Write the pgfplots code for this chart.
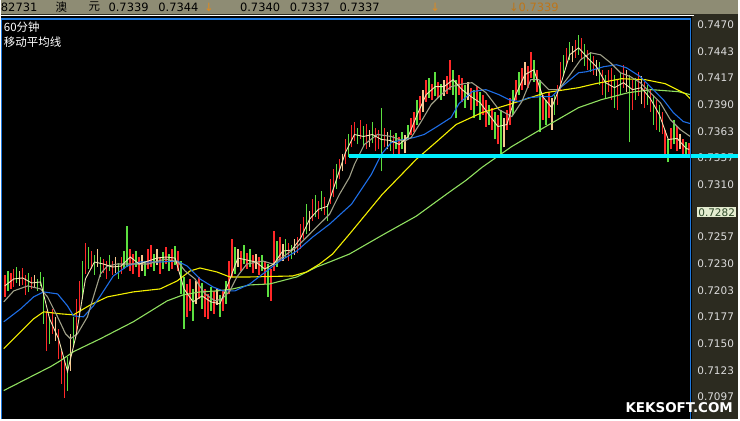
\documentclass[border=0pt]{standalone}
\usepackage{fontspec}
\setmainfont{DejaVu Sans}
\newfontfamily\cjk{Noto Sans CJK SC}
\usepackage{pgfplots}
\usepackage{pgfplotstable}
\pgfplotsset{compat=1.18}

\definecolor{hdr}{HTML}{8E8C74}
\definecolor{panel}{HTML}{2C2B20}
\definecolor{frameblue}{HTML}{1E78DC}
\definecolor{barred}{HTML}{FF2828}
\definecolor{bargreen}{HTML}{5CE040}
\definecolor{barpeach}{HTML}{F6C890}
\definecolor{macream}{HTML}{F0E6B4}
\definecolor{magrey}{HTML}{A0A088}
\definecolor{mablue}{HTML}{1E6EE6}
\definecolor{mayellow}{HTML}{F4F000}
\definecolor{magreen}{HTML}{90E060}
\definecolor{lblgrey}{HTML}{DCDCDC}
\definecolor{tagbg}{HTML}{E4ECD0}
\definecolor{tagtext}{HTML}{2E4A2A}
\definecolor{arrowc}{HTML}{E08A1E}
\definecolor{support}{HTML}{00F0FF}

\newcommand{\pricetag}[1]{{\setlength{\fboxsep}{1pt}\colorbox{tagbg}{\color{tagtext}#1}}}

% one high-low bar per row: a vertical stroke from the low to the high
\pgfplotsset{
  hlbar/.style 2 args={draw=#1, line width=1.6pt, mark=none, forget plot,
    quiver={u=0, v=\thisrow{hi}-\thisrow{lo}},
    restrict expr to domain={\thisrow{c}}{#2:#2}},
}

% 60-minute bars: index, high, low, colour class (0 red, 1 green, 2 peach)
\pgfplotstableread{
i hi lo c
1 0.7219 0.7197 0
2 0.7223 0.7203 1
3 0.7221 0.7205 0
4 0.7225 0.7207 0
5 0.7227 0.7211 1
6 0.7223 0.7208 2
7 0.7226 0.7209 0
8 0.7219 0.7199 0
9 0.7221 0.7202 1
10 0.7217 0.7205 0
11 0.7219 0.7206 2
12 0.7215 0.7203 1
13 0.7222 0.7208 1
14 0.7217 0.7170 1
15 0.7183 0.7143 0
16 0.7177 0.7150 1
17 0.7185 0.7160 0
18 0.7177 0.7153 2
19 0.7165 0.7135 0
20 0.7143 0.7110 0
21 0.7133 0.7096 0
22 0.7137 0.7103 1
23 0.7160 0.7123 2
24 0.7177 0.7147 1
25 0.7195 0.7160 0
26 0.7213 0.7177 0
27 0.7233 0.7195 1
28 0.7251 0.7220 0
29 0.7247 0.7225 1
30 0.7243 0.7225 0
31 0.7239 0.7219 1
32 0.7245 0.7227 2
33 0.7237 0.7217 1
34 0.7235 0.7221 0
35 0.7233 0.7215 0
36 0.7239 0.7223 1
37 0.7233 0.7219 0
38 0.7237 0.7221 2
39 0.7231 0.7215 1
40 0.7237 0.7220 0
41 0.7243 0.7225 1
42 0.7268 0.7227 1
43 0.7245 0.7223 0
44 0.7240 0.7220 0
45 0.7243 0.7227 1
46 0.7237 0.7217 0
47 0.7239 0.7223 2
48 0.7233 0.7218 1
49 0.7245 0.7225 0
50 0.7249 0.7227 0
51 0.7240 0.7223 1
52 0.7245 0.7229 2
53 0.7237 0.7220 0
54 0.7242 0.7225 1
55 0.7247 0.7230 0
56 0.7240 0.7223 1
57 0.7245 0.7225 0
58 0.7248 0.7229 1
59 0.7243 0.7223 0
60 0.7233 0.7200 1
61 0.7217 0.7165 1
62 0.7210 0.7177 0
63 0.7215 0.7183 0
64 0.7205 0.7173 1
65 0.7213 0.7190 2
66 0.7217 0.7195 0
67 0.7211 0.7185 1
68 0.7205 0.7177 0
69 0.7200 0.7175 0
70 0.7207 0.7183 1
71 0.7203 0.7180 0
72 0.7205 0.7189 2
73 0.7199 0.7177 1
74 0.7203 0.7183 0
75 0.7213 0.7190 1
76 0.7233 0.7200 0
77 0.7255 0.7217 0
78 0.7247 0.7220 1
79 0.7245 0.7227 2
80 0.7243 0.7223 0
81 0.7249 0.7230 1
82 0.7241 0.7225 0
83 0.7245 0.7227 1
84 0.7239 0.7221 0
85 0.7240 0.7225 2
86 0.7237 0.7219 0
87 0.7239 0.7223 1
88 0.7233 0.7210 0
89 0.7230 0.7197 1
90 0.7225 0.7193 0
91 0.7263 0.7223 0
92 0.7253 0.7227 1
93 0.7257 0.7233 0
94 0.7250 0.7233 2
95 0.7255 0.7237 1
96 0.7251 0.7233 0
97 0.7249 0.7235 1
98 0.7255 0.7239 2
99 0.7257 0.7241 0
100 0.7270 0.7245 0
101 0.7277 0.7255 0
102 0.7290 0.7260 1
103 0.7283 0.7263 2
104 0.7295 0.7273 0
105 0.7299 0.7277 1
106 0.7293 0.7275 0
107 0.7303 0.7283 1
108 0.7297 0.7279 0
109 0.7290 0.7273 1
110 0.7315 0.7290 0
111 0.7325 0.7297 0
112 0.7330 0.7305 1
113 0.7335 0.7315 0
114 0.7340 0.7323 2
115 0.7355 0.7330 0
116 0.7360 0.7337 1
117 0.7370 0.7347 0
118 0.7373 0.7353 0
119 0.7367 0.7350 1
120 0.7375 0.7355 0
121 0.7369 0.7347 1
122 0.7371 0.7345 0
123 0.7365 0.7347 2
124 0.7373 0.7351 1
125 0.7367 0.7343 0
126 0.7365 0.7345 0
127 0.7387 0.7323 1
128 0.7367 0.7347 0
129 0.7363 0.7345 2
130 0.7365 0.7343 1
131 0.7359 0.7340 0
132 0.7361 0.7345 1
133 0.7357 0.7339 0
134 0.7363 0.7345 1
135 0.7359 0.7341 2
136 0.7370 0.7355 1
137 0.7377 0.7359 0
138 0.7383 0.7363 0
139 0.7395 0.7370 1
140 0.7399 0.7375 0
141 0.7405 0.7383 2
142 0.7415 0.7393 0
143 0.7417 0.7397 1
144 0.7411 0.7395 0
145 0.7423 0.7399 1
146 0.7413 0.7397 0
147 0.7411 0.7395 1
148 0.7415 0.7399 2
149 0.7419 0.7401 0
150 0.7435 0.7405 0
151 0.7425 0.7400 1
152 0.7415 0.7377 1
153 0.7420 0.7400 0
154 0.7417 0.7393 0
155 0.7410 0.7387 1
156 0.7413 0.7395 2
157 0.7407 0.7385 0
158 0.7405 0.7377 1
159 0.7409 0.7389 0
160 0.7403 0.7375 1
161 0.7400 0.7380 0
162 0.7395 0.7368 0
163 0.7390 0.7370 1
164 0.7387 0.7365 0
165 0.7383 0.7355 1
166 0.7380 0.7350 0
167 0.7385 0.7338 1
168 0.7377 0.7347 2
169 0.7385 0.7365 0
170 0.7397 0.7370 0
171 0.7405 0.7380 1
172 0.7415 0.7395 0
173 0.7423 0.7400 1
174 0.7427 0.7405 0
175 0.7433 0.7410 2
176 0.7429 0.7407 0
177 0.7443 0.7417 0
178 0.7435 0.7413 1
179 0.7425 0.7403 0
180 0.7415 0.7362 1
181 0.7400 0.7375 0
182 0.7395 0.7370 1
183 0.7403 0.7377 0
184 0.7397 0.7365 2
185 0.7400 0.7380 1
186 0.7410 0.7390 0
187 0.7433 0.7405 0
188 0.7440 0.7420 1
189 0.7447 0.7430 0
190 0.7453 0.7435 1
191 0.7449 0.7433 2
192 0.7455 0.7437 0
193 0.7460 0.7440 1
194 0.7457 0.7435 0
195 0.7451 0.7429 1
196 0.7445 0.7425 0
197 0.7443 0.7423 1
198 0.7439 0.7420 0
199 0.7435 0.7419 2
200 0.7433 0.7410 1
201 0.7425 0.7400 0
202 0.7420 0.7397 1
203 0.7425 0.7403 0
204 0.7427 0.7395 0
205 0.7420 0.7387 1
206 0.7415 0.7385 0
207 0.7423 0.7400 1
208 0.7430 0.7407 0
209 0.7425 0.7403 2
210 0.7420 0.7352 1
211 0.7415 0.7385 0
212 0.7417 0.7395 1
213 0.7423 0.7399 0
214 0.7419 0.7391 2
215 0.7413 0.7387 0
216 0.7410 0.7390 1
217 0.7405 0.7383 0
218 0.7400 0.7370 1
219 0.7395 0.7365 0
220 0.7390 0.7363 1
221 0.7383 0.7360 0
222 0.7365 0.7337 0
223 0.7355 0.7332 1
224 0.7367 0.7345 0
225 0.7375 0.7350 1
226 0.7369 0.7343 0
227 0.7360 0.7345 2
228 0.7355 0.7340 0
229 0.7352 0.7338 1
230 0.7351 0.7339 0
}\bars

% moving averages, fastest first
\pgfplotstableread{
i v
1 0.7208
4 0.7215
7 0.7216
10 0.7211
13 0.7212
16 0.7175
19 0.7155
22 0.7122
25 0.7160
28 0.7215
31 0.7232
34 0.7230
37 0.7227
40 0.7228
43 0.7237
46 0.7230
49 0.7233
52 0.7236
55 0.7237
58 0.7236
61 0.7205
64 0.7192
67 0.7198
70 0.7192
73 0.7190
76 0.7212
79 0.7236
82 0.7234
85 0.7232
88 0.7225
91 0.7230
94 0.7243
97 0.7244
100 0.7256
103 0.7275
106 0.7285
109 0.7288
112 0.7315
115 0.7342
118 0.7360
121 0.7358
124 0.7360
127 0.7355
130 0.7354
133 0.7350
136 0.7358
139 0.7380
142 0.7400
145 0.7408
148 0.7408
151 0.7415
154 0.7405
157 0.7398
160 0.7392
163 0.7380
166 0.7368
169 0.7370
172 0.7400
175 0.7420
178 0.7425
181 0.7398
184 0.7387
187 0.7410
190 0.7440
193 0.7447
196 0.7437
199 0.7428
202 0.7412
205 0.7407
208 0.7412
211 0.7405
214 0.7407
217 0.7396
220 0.7380
223 0.7355
226 0.7356
229 0.7346
230 0.7345
}\maF

\pgfplotstableread{
i v
0.67 0.7192
4 0.7203
8.67 0.7208
13 0.7205
15.33 0.7197
18.67 0.7177
21.33 0.7160
23 0.7155
25.33 0.7160
28.67 0.7177
30.67 0.7197
33 0.7220
35.33 0.7228
38.67 0.7230
43.67 0.7230
49 0.7230
54.67 0.7235
59 0.7232
61.33 0.7223
64.67 0.7215
68 0.7200
71.33 0.7193
73.67 0.7195
76.33 0.7203
78.67 0.7217
82 0.7230
87.33 0.7233
90.67 0.7230
94 0.7237
98.67 0.7247
102 0.7257
106.33 0.7270
109.67 0.7280
113 0.7300
116.33 0.7317
118 0.7330
121.33 0.7350
125.67 0.7360
130.33 0.7358
134.67 0.7353
137 0.7357
140.33 0.7373
143.67 0.7390
147 0.7400
150.33 0.7408
154.67 0.7411
157.33 0.7412
162 0.7402
166.33 0.7385
170.67 0.7378
174 0.7393
177 0.7415
179.67 0.7415
183 0.7405
186.33 0.7405
189.67 0.7418
193.67 0.7435
197 0.7442
200.33 0.7440
203.67 0.7432
207 0.7422
210.33 0.7418
213.67 0.7412
217 0.7402
220.33 0.7392
223.67 0.7375
227 0.7365
230.33 0.7358
}\maA

\pgfplotstableread{
i v
0.67 0.7172
6.33 0.7185
10.67 0.7197
14 0.7202
18.67 0.7200
22 0.7188
24 0.7178
27.33 0.7177
30.67 0.7188
33 0.7198
37.33 0.7218
42 0.7228
46.33 0.7232
53 0.7232
58.67 0.7233
62 0.7228
66.33 0.7215
70.67 0.7207
74 0.7203
78 0.7203
83 0.7210
93 0.7233
98.67 0.7243
104 0.7257
109.67 0.7270
117 0.7290
123.67 0.7320
127 0.7340
130.33 0.7352
134.67 0.7355
138 0.7357
141.33 0.7360
145.67 0.7368
150.33 0.7377
153 0.7391
157.33 0.7403
162 0.7405
166.33 0.7400
169.67 0.7395
173 0.7393
176.33 0.7397
180.67 0.7398
184 0.7398
187.33 0.7408
193 0.7422
195.67 0.7423
201.33 0.7428
205.67 0.7430
209 0.7427
213.67 0.7418
218 0.7405
221.33 0.7395
224.67 0.7382
228 0.7373
230.33 0.7371
}\maB

\pgfplotstableread{
i v
0.67 0.7145
6.33 0.7162
10.67 0.7175
14 0.7182
19.67 0.7180
24 0.7179
29.67 0.7189
35.33 0.7197
44 0.7202
53 0.7205
58.67 0.7213
63 0.7223
66.33 0.7226
72 0.7222
76.33 0.7217
83 0.7217
97.33 0.7218
102 0.7222
106.33 0.7230
110.67 0.7240
116.33 0.7260
127.33 0.7300
138.67 0.7335
146.33 0.7355
152 0.7370
160.67 0.7382
170.67 0.7391
182 0.7402
193 0.7407
198.67 0.7411
207.33 0.7416
215.33 0.7415
222 0.7411
228.67 0.7401
230.33 0.7396
}\maC

\pgfplotstableread{
i v
0.67 0.7103
16.33 0.7127
19.67 0.7133
24 0.7142
33 0.7155
44 0.7172
55.33 0.7193
60.67 0.7199
66.33 0.7202
72 0.7203
77.33 0.7205
83 0.7209
89.67 0.7210
98.67 0.7217
105.33 0.7227
109.67 0.7232
116.33 0.7240
127.33 0.7259
138.67 0.7278
149.67 0.7302
155.33 0.7314
160.67 0.7327
170.67 0.7348
182 0.7368
193 0.7387
200.67 0.7395
209.67 0.7402
217.33 0.7405
226.33 0.7403
230.33 0.7400
}\maD

\begin{document}
\begin{tikzpicture}[x=1pt, y=1pt]
% panels
\fill[panel] (0,0) rectangle (740,421);
\fill[hdr] (0,407) rectangle (740,421);
\fill[black] (0,0) rectangle (693.5,405);
\draw[white, line width=1.5pt] (0,405.5) -- (696,405.5);

% quote strip
\begin{scope}[every node/.style={anchor=west, inner sep=0pt, font=\fontsize{11.5}{13}\selectfont, text=black}]
\node at (0,414) {82731};
\node at (55,414) {\cjk 澳};
\node at (88,414) {\cjk 元};
\node at (108,414) {0.7339};
\node at (158,414) {0.7344};
\node[text=arrowc] at (204,414) {↓};
\node at (240,414) {0.7340};
\node at (290,414) {0.7337};
\node at (340,414) {0.7337};
\node[text=arrowc] at (431,414) {↓};
\node[text=arrowc!85!black] at (510,414) {↓0.7339};
\end{scope}

\begin{axis}[
  at={(1pt,0pt)}, anchor=south west,
  scale only axis, width=691pt, height=402pt,
  xmin=0, xmax=230.33, ymin=0.7074, ymax=0.7476,
  clip=false,
  axis line style={draw=none},
  xtick=\empty,
  major tick length=0pt,
  yticklabel pos=right,
  ytick={0.7097,0.7123,0.7150,0.7177,0.7203,0.7230,0.7257,0.7282,0.7310,0.7337,0.7363,0.7390,0.7417,0.7443,0.7470},
  yticklabels={0.7097,0.7123,0.7150,0.7177,0.7203,0.7230,0.7257,\pricetag{0.7282},0.7310,0.7337,0.7363,0.7390,0.7417,0.7443,0.7470},
  yticklabel style={anchor=west, inner sep=0pt, xshift=7pt, text=lblgrey, font=\fontsize{10.5}{12}\selectfont},
]
\addplot[hlbar={barred}{0}] table[x=i, y=lo] {\bars};
\addplot[hlbar={bargreen}{1}] table[x=i, y=lo] {\bars};
\addplot[hlbar={barpeach}{2}] table[x=i, y=lo] {\bars};

\addplot[magreen, line width=1.1pt, mark=none] table[x=i, y=v] {\maD};
\addplot[mayellow, line width=1.1pt, mark=none] table[x=i, y=v] {\maC};
\addplot[mablue, line width=1.1pt, mark=none] table[x=i, y=v] {\maB};
\addplot[magrey, line width=1.1pt, mark=none] table[x=i, y=v] {\maA};
\addplot[macream, line width=0.9pt, mark=none] table[x=i, y=v] {\maF};

% support level
\addplot[support, line width=4pt, mark=none] coordinates {(116.33,0.7338) (230.33,0.7338)};
\coordinate (supportend) at (axis cs:230.33,0.7338);
\end{axis}

% the support level runs on across the price scale
\draw[support, line width=4pt] (supportend) -- ++(48,0);

% chart frame
\draw[frameblue, line width=1.5pt] (0.75,0) -- (0.75,402) -- (692.5,402) -- (692.5,0);

% chart captions
\node[anchor=west, inner sep=0pt, text=white, font=\cjk\fontsize{11.5}{13}\selectfont] at (3,394) {60分钟};
\node[anchor=west, inner sep=0pt, text=white, font=\cjk\fontsize{11.5}{13}\selectfont] at (3,379) {移动平均线};

% watermark
\node[anchor=east, inner sep=0pt, text=white, font=\bfseries\fontsize{13.5}{15}\selectfont] at (735,11.5) {KEKSOFT.COM};
\end{tikzpicture}
\end{document}
